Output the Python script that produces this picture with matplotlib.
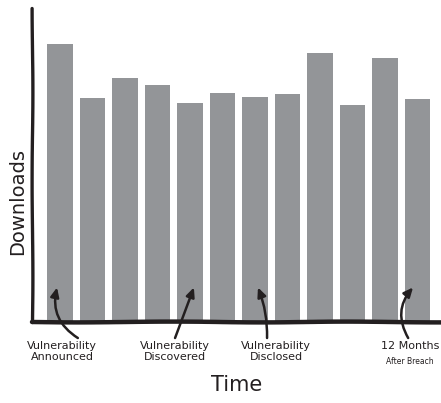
import matplotlib
matplotlib.use("Agg")
import matplotlib.pyplot as plt

# downloads per month (arbitrary units)
months = list(range(12))
downloads = [88.5, 71.3, 77.7, 75.5, 69.7, 72.9, 71.7, 72.6, 85.7, 69.1, 84.1, 71.0]

# annotations: label, month the arrow points at, arrow tail month, label centre month
notes = ["Vulnerability\nAnnounced", "Vulnerability\nDiscovered",
         "Vulnerability\nDisclosed", "12 Months"]
note_tip = [-0.09, 4.12, 6.09, 10.86]
note_tail = [0.55, 3.54, 6.37, 10.71]
note_text = [0.06, 3.54, 6.65, 10.77]
note_rad = [-0.35, 0.0, 0.1, -0.35]

ink = "#231f20"
bar_col = "#939598"

fig = plt.figure(figsize=(4.41, 4.03), dpi=100)
ax = fig.add_axes([32/441, 1-322/403, 1-32/441, 314/403])

ax.bar(months, downloads, width=0.78, color=bar_col)
ax.set_xlim(-0.86, 11.72)
ax.set_ylim(0, 100)

for s in ["top", "right"]:
    ax.spines[s].set_visible(False)
ax.spines["bottom"].set_linewidth(3.2)
ax.spines["left"].set_linewidth(2.4)
for s in ["bottom", "left"]:
    ax.spines[s].set_color(ink)
    ax.spines[s].set_capstyle("round")
    ax.spines[s].set_sketch_params(0.4, 200, 2)
ax.set_xticks([])
ax.set_yticks([])

tr = ax.get_xaxis_transform()
for lab, tip, tail, tx, rad in zip(notes, note_tip, note_tail, note_text, note_rad):
    ax.annotate("", xy=(tip, 0.11), xytext=(tail, -0.051),
                xycoords=tr, textcoords=tr,
                arrowprops=dict(arrowstyle="-|>,head_length=0.55,head_width=0.25",
                                color=ink, lw=1.8,
                                connectionstyle=f"arc3,rad={rad}",
                                shrinkA=0, shrinkB=0))
    ax.text(tx, -0.062, lab, transform=tr, ha="center", va="top",
            fontsize=8, color=ink, linespacing=1.1)

ax.text(10.77, -0.112, "After Breach", transform=tr, ha="center", va="top",
        fontsize=5.5, color=ink)

ax.text(0.5, -0.2, "Time", transform=ax.transAxes, ha="center", va="center",
        fontsize=15, color=ink)
fig.text(18/441, 0.5, "Downloads", rotation=90, ha="center", va="center",
         fontsize=14, color=ink)

fig.savefig("out.png", dpi=100)
